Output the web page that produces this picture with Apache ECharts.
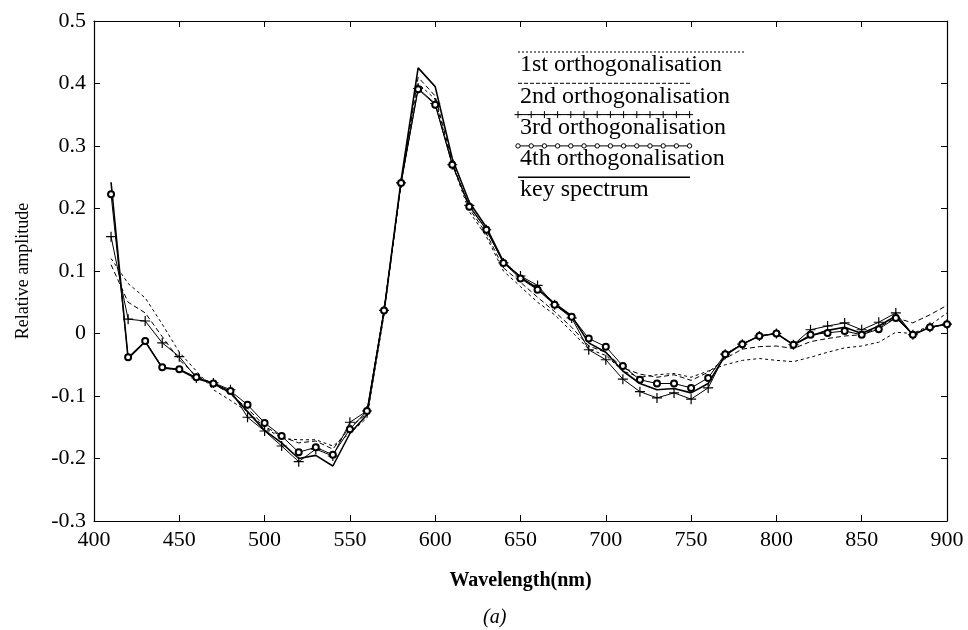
<!DOCTYPE html>
<html>
<head>
<meta charset="utf-8">
<script src="https://cdn.jsdelivr.net/npm/echarts@6/dist/echarts.min.js"></script>
<style>
  html, body { margin: 0; padding: 0; background: #fff; }
  #chart { width: 968px; height: 630px; }
</style>
</head>
<body>
<div id="chart"></div>
<script>
// spectra (10 nm steps)
var wavelengths = [410, 420, 430, 440, 450, 460, 470, 480, 490, 500,
  510, 520, 530, 540, 550, 560, 570, 580, 590, 600,
  610, 620, 630, 640, 650, 660, 670, 680, 690, 700,
  710, 720, 730, 740, 750, 760, 770, 780, 790, 800,
  810, 820, 830, 840, 850, 860, 870, 880, 890, 900];

var orth1 = [0.120, 0.080, 0.057, 0.015, -0.030, -0.060, -0.090, -0.107, -0.125, -0.150,
  -0.168, -0.170, -0.170, -0.180, -0.160, -0.135, 0.030, 0.240, 0.400, 0.375,
  0.272, 0.195, 0.155, 0.100, 0.075, 0.050, 0.030, 0.003, -0.025, -0.035,
  -0.060, -0.070, -0.066, -0.064, -0.070, -0.060, -0.050, -0.043, -0.040, -0.043,
  -0.045, -0.038, -0.030, -0.023, -0.020, -0.014, 0.002, 0.000, 0.013, 0.033];

var orth2 = [0.110, 0.050, 0.033, -0.005, -0.042, -0.068, -0.080, -0.097, -0.120, -0.148,
  -0.165, -0.175, -0.172, -0.185, -0.150, -0.128, 0.036, 0.242, 0.410, 0.380,
  0.275, 0.200, 0.160, 0.105, 0.082, 0.058, 0.035, 0.010, -0.020, -0.030,
  -0.055, -0.065, -0.070, -0.066, -0.075, -0.062, -0.040, -0.025, -0.021, -0.020,
  -0.024, -0.013, -0.008, -0.004, -0.002, 0.010, 0.025, 0.017, 0.030, 0.045];

var orth3 = [0.155, 0.023, 0.020, -0.015, -0.037, -0.071, -0.079, -0.090, -0.134, -0.156,
  -0.180, -0.205, -0.185, -0.196, -0.142, -0.124, 0.037, 0.241, 0.392, 0.368,
  0.270, 0.205, 0.166, 0.113, 0.092, 0.077, 0.046, 0.025, -0.026, -0.042,
  -0.073, -0.093, -0.103, -0.095, -0.105, -0.087, -0.033, -0.017, -0.004, 0.000,
  -0.018, 0.006, 0.012, 0.017, 0.006, 0.018, 0.033, -0.002, 0.010, 0.015];

var orth4 = [0.223, -0.038, -0.012, -0.054, -0.057, -0.070, -0.080, -0.092, -0.114, -0.143,
  -0.164, -0.190, -0.182, -0.194, -0.153, -0.124, 0.037, 0.241, 0.391, 0.366,
  0.270, 0.203, 0.166, 0.113, 0.088, 0.070, 0.046, 0.027, -0.008, -0.021,
  -0.052, -0.074, -0.080, -0.080, -0.087, -0.071, -0.033, -0.017, -0.004, 0.000,
  -0.018, -0.002, 0.001, 0.004, -0.002, 0.007, 0.025, -0.002, 0.010, 0.015];

var keySpectrum = [0.242, -0.040, -0.013, -0.055, -0.058, -0.072, -0.080, -0.095, -0.125, -0.155,
  -0.175, -0.200, -0.195, -0.212, -0.160, -0.130, 0.035, 0.245, 0.425, 0.395,
  0.280, 0.210, 0.170, 0.115, 0.090, 0.072, 0.048, 0.028, -0.015, -0.030,
  -0.060, -0.080, -0.090, -0.088, -0.095, -0.080, -0.035, -0.017, -0.004, 0.000,
  -0.018, -0.004, 0.005, 0.010, 0.000, 0.012, 0.028, -0.002, 0.010, 0.015];

var legendNames = ['1st orthogonalisation', '2nd orthogonalisation', '3rd orthogonalisation',
  '4th orthogonalisation', 'key spectrum'];

var serif = 'Liberation Serif';
var plusPath = 'path://M4.4,0h1.2v10h-1.2zM0,4.4h10v1.2h-10z';

function pairs(arr) {
  return wavelengths.map(function(w, i) { return [w, arr[i]]; });
}

// hand drawn legend: sample line above each label
function buildLegend() {
  var els = [];
  var x0 = 518, y0 = 52, step = 31.3;
  legendNames.forEach(function(name, i) {
    var y = y0 + i * step;
    var x1 = i === 0 ? 744 : 690;
    var ls = { stroke: '#000', lineWidth: 1 };
    if (i === 0) ls.lineDash = [2, 2];
    if (i === 1) ls.lineDash = [4, 2];
    if (i === 4) ls.lineWidth = 1.6;
    els.push({ type: 'line', shape: { x1: x0, y1: y, x2: x1, y2: y }, style: ls, silent: true });
    if (i === 2 || i === 3) {
      for (var k = 0; k < 14; k++) {
        var mx = x0 + k * 13.2;
        if (i === 2) {
          els.push({ type: 'line', shape: { x1: mx - 3.5, y1: y, x2: mx + 3.5, y2: y }, style: { stroke: '#000', lineWidth: 1 }, silent: true });
          els.push({ type: 'line', shape: { x1: mx, y1: y - 3.5, x2: mx, y2: y + 3.5 }, style: { stroke: '#000', lineWidth: 1 }, silent: true });
        } else {
          els.push({ type: 'circle', shape: { cx: mx, cy: y, r: 2.2 }, style: { fill: '#fff', stroke: '#000', lineWidth: 1 }, silent: true });
        }
      }
    }
    els.push({
      type: 'text', left: x0 + 2, top: y + 1, silent: true,
      style: { text: name, font: '24px "Liberation Serif"', fill: '#000' }
    });
  });
  return els;
}

var chart = echarts.init(document.getElementById('chart'), null, { renderer: 'canvas' });

var axisCommon = {
  axisLine: { onZero: false, lineStyle: { color: '#000', width: 1.2 } },
  axisTick: { inside: true, length: 6, lineStyle: { color: '#000', width: 1 } },
  splitLine: { show: false }
};

chart.setOption({
  animation: false,
  backgroundColor: '#fff',
  title: {
    text: '(a)', left: 478, top: 603,
    textStyle: { fontFamily: serif, fontStyle: 'italic', fontWeight: 'normal', fontSize: 20, color: '#000' }
  },
  grid: { left: 94, right: 21, top: 21, bottom: 109 },
  xAxis: [
    Object.assign({
      type: 'value', min: 400, max: 900, interval: 50, position: 'bottom',
      name: 'Wavelength(nm)', nameLocation: 'middle', nameGap: 50,
      nameTextStyle: { fontFamily: serif, fontWeight: 'bold', fontSize: 20, color: '#000' },
      axisLabel: { color: '#000', fontFamily: serif, fontSize: 22, margin: 8 }
    }, axisCommon),
    Object.assign({
      type: 'value', min: 400, max: 900, interval: 50, position: 'top',
      axisLabel: { show: false }
    }, axisCommon)
  ],
  yAxis: [
    Object.assign({
      type: 'value', min: -0.3, max: 0.5, interval: 0.1, position: 'left',
      name: 'Relative amplitude', nameLocation: 'middle', nameGap: 62,
      nameTextStyle: { fontFamily: serif, fontSize: 18, color: '#000' },
      axisLabel: { color: '#000', fontFamily: serif, fontSize: 22, margin: 8 }
    }, axisCommon),
    Object.assign({
      type: 'value', min: -0.3, max: 0.5, interval: 0.1, position: 'right',
      axisLabel: { show: false }
    }, axisCommon)
  ],
  graphic: buildLegend(),
  series: [
    {
      name: legendNames[0], type: 'line', data: pairs(orth1), showSymbol: false,
      lineStyle: { color: '#000', width: 1, type: [3, 3] }
    },
    {
      name: legendNames[1], type: 'line', data: pairs(orth2), showSymbol: false,
      lineStyle: { color: '#000', width: 1, type: [5, 3] }
    },
    {
      name: legendNames[4], type: 'line', data: pairs(keySpectrum), showSymbol: false,
      lineStyle: { color: '#000', width: 1.6 }
    },
    {
      name: legendNames[2], type: 'line', data: pairs(orth3),
      symbol: plusPath, symbolSize: 10,
      lineStyle: { color: '#000', width: 1 }, itemStyle: { color: '#000' }
    },
    {
      name: legendNames[3], type: 'line', data: pairs(orth4),
      symbol: 'emptyCircle', symbolSize: 6,
      lineStyle: { color: '#000', width: 1 }, itemStyle: { color: '#000', borderWidth: 1.2 }
    }
  ]
});
</script>
</body>
</html>
